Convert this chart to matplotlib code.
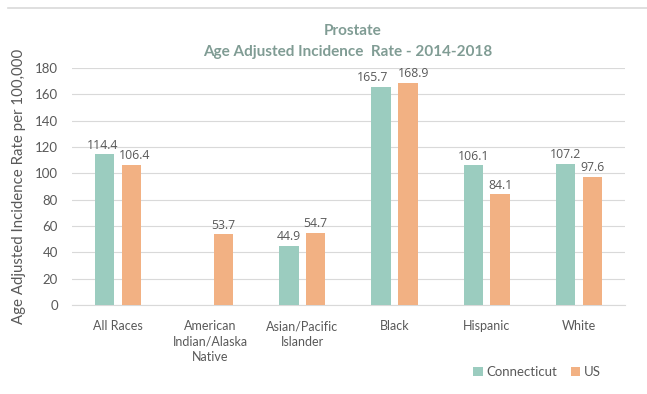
import matplotlib
matplotlib.use("Agg")
import matplotlib.pyplot as plt
import numpy as np

categories = ["All Races", "American\nIndian/Alaska\nNative", "Asian/Pacific\nIslander", "Black", "Hispanic", "White"]
connecticut = [114.4, np.nan, 44.9, 165.7, 106.1, 107.2]
us = [106.4, 53.7, 54.7, 168.9, 84.1, 97.6]
yticks = [0, 20, 40, 60, 80, 100, 120, 140, 160, 180]

plt.rcParams['font.family'] = ['Lato', 'DejaVu Sans']
text_c = '#595959'
ct_c = '#9BCCBF'
us_c = '#F2B183'

fig = plt.figure(figsize=(6.47, 3.94), dpi=100)
ax = fig.add_axes([0.111, 0.226, 0.855, 0.601])
x = np.arange(len(categories))
off = 0.145
w = 0.21
b1 = ax.bar(x - off, connecticut, w, color=ct_c, label='Connecticut', zorder=3)
b2 = ax.bar(x + off, us, w, color=us_c, label='US', zorder=3)

# horizontal nudges (points) to keep neighbouring labels apart, as in the reference
ct_nudge = [-1.5, 0, 0, -6, 0, 0]
us_nudge = [2.5, 0, 0, 4, 0, 0]
lab_font = ['Open Sans', 'DejaVu Sans']
for xi, v, n in zip(x, connecticut, ct_nudge):
    if not np.isnan(v):
        ax.annotate(f"{v:.1f}", (xi - off, v), xytext=(n, 2), textcoords='offset points',
                    ha='center', va='bottom', fontsize=8.8, color=text_c, family=lab_font)
for xi, v, n in zip(x, us, us_nudge):
    ax.annotate(f"{v:.1f}", (xi + off, v), xytext=(n, 2), textcoords='offset points',
                ha='center', va='bottom', fontsize=8.8, color=text_c, family=lab_font)

ax.set_xlim(-0.5, len(categories) - 0.5)
ax.set_ylim(0, 180)
ax.set_yticks(yticks)
ax.set_xticks(x)
ax.set_xticklabels(categories, fontsize=9, color=text_c, linespacing=1.35)
ax.tick_params(axis='y', labelsize=9.5, colors=text_c, length=0, pad=10)
ax.tick_params(axis='x', length=0, pad=11)
ax.grid(axis='y', color='#D9D9D9', linewidth=0.8, zorder=0)
for s in ['top', 'right', 'left']:
    ax.spines[s].set_visible(False)
ax.spines['bottom'].set_color('#D9D9D9')
ax.set_ylabel("Age Adjusted Incidence Rate per 100,000", fontsize=10.8, color=text_c, labelpad=6)

fig.text(0.545, 1 - 31/394, "Prostate", ha='center', va='center', fontsize=11, fontweight='bold', color='#809C94')
fig.text(0.538, 1 - 52/394, "Age Adjusted Incidence  Rate - 2014-2018", ha='center', va='center', fontsize=11, fontweight='bold', color='#809C94')

fig.add_artist(plt.Line2D([8/647, 1], [1 - 8/394, 1 - 8/394], color='#D9D9D9', linewidth=1.2, transform=fig.transFigure))

fig.legend(handles=[b1, b2], loc='center', bbox_to_anchor=(0.83, 0.055), ncol=2, frameon=False,
           fontsize=9.5, labelcolor=text_c, handlelength=0.7, handleheight=0.7, handletextpad=0.3, columnspacing=1.0)

fig.savefig("out.png", dpi=100)
